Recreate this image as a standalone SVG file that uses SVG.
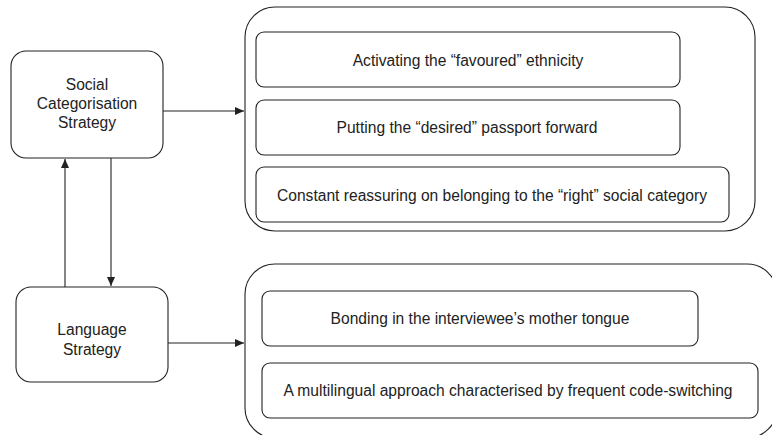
<svg xmlns="http://www.w3.org/2000/svg" width="772" height="435" viewBox="0 0 772 435">
<style>
.box{fill:#fff;stroke:#222;stroke-width:1.1}
.cont{fill:none;stroke:#222;stroke-width:1.1}
.t{font-family:"Liberation Sans",Arial,sans-serif;font-size:15.6px;fill:#222;text-anchor:middle}
.tl{font-family:"Liberation Sans",Arial,sans-serif;font-size:15.6px;fill:#222;text-anchor:middle}
.c{fill:none;stroke:#222;stroke-width:1.1}
</style>
<defs>
<marker id="ah" markerWidth="10" markerHeight="8" refX="9" refY="4" orient="auto" markerUnits="userSpaceOnUse">
<path d="M0,0 L9,4 L0,8 Z" fill="#222"/>
</marker>
</defs>
<rect width="772" height="435" fill="#fff"/>
<g id="social">
<rect class="box" x="11" y="51" width="152" height="107" rx="15"/>
<text class="tl" x="87" y="90">Social</text>
<text class="tl" x="87" y="109">Categorisation</text>
<text class="tl" x="87" y="128">Strategy</text>
</g>
<g id="language">
<rect class="box" x="16" y="287" width="152" height="95" rx="15"/>
<text class="tl" x="92" y="335">Language</text>
<text class="tl" x="92" y="355">Strategy</text>
</g>
<g id="social-group">
<rect class="cont" x="245" y="7" width="510" height="224" rx="30"/>
<g id="s1"><rect class="box" x="256" y="32" width="424" height="55" rx="8"/><text class="t" x="468" y="66">Activating the “favoured” ethnicity</text></g>
<g id="s2"><rect class="box" x="256" y="100" width="424" height="55" rx="8"/><text class="t" x="467" y="133">Putting the “desired” passport forward</text></g>
<g id="s3"><rect class="box" x="256" y="167" width="473" height="55" rx="8"/><text class="t" x="492" y="201">Constant reassuring on belonging to the “right” social category</text></g>
</g>
<g id="language-group">
<rect class="cont" x="245" y="264" width="532" height="174" rx="30"/>
<g id="l1"><rect class="box" x="262" y="291" width="436" height="55" rx="8"/><text class="t" x="480" y="324">Bonding in the interviewee’s mother tongue</text></g>
<g id="l2"><rect class="box" x="262" y="363" width="496" height="55" rx="8"/><text class="t" x="508" y="396">A multilingual approach characterised by frequent code-switching</text></g>
</g>
<g id="connectors">
<line class="c" x1="163" y1="111" x2="244" y2="111" marker-end="url(#ah)"/>
<line class="c" x1="168" y1="343" x2="244" y2="343" marker-end="url(#ah)"/>
<line class="c" x1="65" y1="287" x2="65" y2="159" marker-end="url(#ah)"/>
<line class="c" x1="111" y1="158" x2="111" y2="286" marker-end="url(#ah)"/>
</g>
</svg>
